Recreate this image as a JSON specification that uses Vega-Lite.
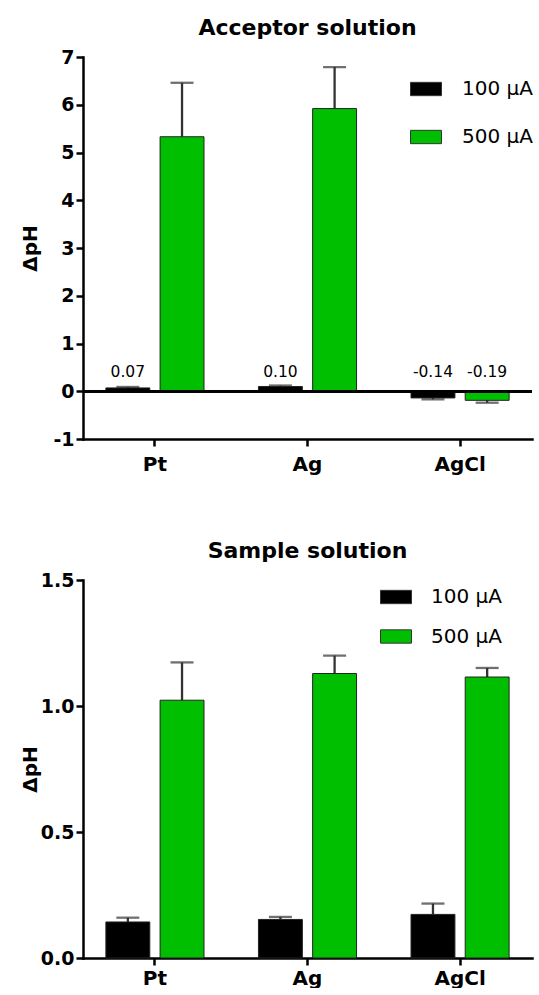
{
  "$schema": "https://vega.github.io/schema/vega-lite/v6.json",
  "background": "white",
  "padding": {"left": 20, "top": 17, "right": 0, "bottom": 0},
  "spacing": 66,
  "config": {
    "font": "DejaVu Sans",
    "view": {"stroke": null},
    "axis": {
      "grid": false,
      "domainColor": "black",
      "domainWidth": 2.5,
      "domainCap": "square",
      "tickColor": "black",
      "tickWidth": 2.5,
      "tickSize": 7,
      "labelFont": "DejaVu Sans",
      "labelFontWeight": "bold",
      "labelFontSize": 19,
      "labelColor": "black",
      "titleFont": "DejaVu Sans",
      "titleFontWeight": "bold",
      "titleFontSize": 20,
      "titleColor": "black"
    },
    "title": {"font": "DejaVu Sans", "fontSize": 22, "fontWeight": "bold", "color": "black", "offset": 8}
  },
  "datasets": {
    "acceptor": [
      {"metal": "Pt", "current": "100 µA", "value": 0.07, "sd": 0.02},
      {"metal": "Pt", "current": "500 µA", "value": 5.33, "sd": 1.13},
      {"metal": "Ag", "current": "100 µA", "value": 0.10, "sd": 0.02},
      {"metal": "Ag", "current": "500 µA", "value": 5.92, "sd": 0.87},
      {"metal": "AgCl", "current": "100 µA", "value": -0.14, "sd": 0.03},
      {"metal": "AgCl", "current": "500 µA", "value": -0.19, "sd": 0.05}
    ],
    "sample": [
      {"metal": "Pt", "current": "100 µA", "value": 0.143, "sd": 0.017},
      {"metal": "Pt", "current": "500 µA", "value": 1.023, "sd": 0.15},
      {"metal": "Ag", "current": "100 µA", "value": 0.153, "sd": 0.01},
      {"metal": "Ag", "current": "500 µA", "value": 1.129, "sd": 0.071},
      {"metal": "AgCl", "current": "100 µA", "value": 0.173, "sd": 0.043},
      {"metal": "AgCl", "current": "500 µA", "value": 1.115, "sd": 0.036}
    ]
  },
  "resolve": {
    "scale": {"color": "independent", "x": "independent", "y": "independent"},
    "legend": {"color": "independent"}
  },
  "vconcat": [
    {
      "title": "Acceptor solution",
      "width": 449,
      "height": 382,
      "data": {"name": "acceptor"},
      "transform": [
        {"calculate": "datum.value + (datum.value < 0 ? -datum.sd : datum.sd)", "as": "end"}
      ],
      "layer": [
        {
          "mark": {"type": "rule", "color": "#333333", "strokeWidth": 2.3},
          "encoding": {
            "x": {"field": "metal", "type": "nominal", "sort": ["Pt", "Ag", "AgCl"], "scale": {"paddingInner": 0.357, "paddingOuter": 0.15}, "axis": {"title": null, "labelAngle": 0, "labelPadding": 8, "labelFontSize": 20}},
            "xOffset": {"field": "current", "type": "nominal", "sort": ["100 µA", "500 µA"], "scale": {"paddingInner": 0.19, "paddingOuter": 0}},
            "y": {"field": "value", "type": "quantitative", "title": "ΔpH", "scale": {"domain": [-1, 7], "nice": false, "zero": false}, "axis": {"values": [-1, 0, 1, 2, 3, 4, 5, 6, 7], "format": "d", "labelExpr": "replace(datum.label, '\u2212', '-')", "titlePadding": 12}},
            "y2": {"field": "end"}
          }
        },
        {
          "mark": {"type": "tick", "color": "#333333", "size": 23, "thickness": 2.3},
          "encoding": {
            "x": {"field": "metal", "type": "nominal", "sort": ["Pt", "Ag", "AgCl"]},
            "xOffset": {"field": "current", "type": "nominal", "sort": ["100 µA", "500 µA"]},
            "y": {"field": "end", "type": "quantitative", "title": "ΔpH"}
          }
        },
        {
          "mark": {"type": "bar", "stroke": "#222222", "strokeWidth": 1},
          "encoding": {
            "x": {"field": "metal", "type": "nominal", "sort": ["Pt", "Ag", "AgCl"]},
            "xOffset": {"field": "current", "type": "nominal", "sort": ["100 µA", "500 µA"]},
            "y": {"field": "value", "type": "quantitative", "title": "ΔpH"},
            "color": {
              "field": "current",
              "type": "nominal",
              "scale": {"domain": ["100 µA", "500 µA"], "range": ["#000000", "#00bf00"]},
              "legend": {
                "title": null,
                "orient": "none",
                "legendX": 327,
                "legendY": 16,
                "padding": 0,
                "symbolType": "M-1,-0.43H1V0.43H-1Z",
                "symbolSize": 961,
                "symbolStrokeColor": "#333333",
                "symbolStrokeWidth": 1,
                "symbolOpacity": 1,
                "labelFont": "DejaVu Sans",
                "labelFontSize": 20,
                "labelColor": "black",
                "labelOffset": 20,
                "rowPadding": 22
              }
            }
          }
        },
        {
          "mark": {"type": "rule", "color": "black", "strokeWidth": 2.5},
          "encoding": {"y": {"datum": 0}}
        },
        {
          "transform": [
            {"filter": "abs(datum.value) < 1"},
            {"calculate": "replace(format(datum.value, '.2f'), '\u2212', '-')", "as": "label"}
          ],
          "mark": {"type": "text", "baseline": "alphabetic", "dy": -14, "fontSize": 15.5, "color": "black"},
          "encoding": {
            "x": {"field": "metal", "type": "nominal", "sort": ["Pt", "Ag", "AgCl"]},
            "xOffset": {"field": "current", "type": "nominal", "sort": ["100 µA", "500 µA"]},
            "y": {"datum": 0},
            "text": {"field": "label"}
          }
        }
      ]
    },
    {
      "title": "Sample solution",
      "width": 449,
      "height": 378,
      "data": {"name": "sample"},
      "transform": [
        {"calculate": "datum.value + datum.sd", "as": "end"}
      ],
      "layer": [
        {
          "mark": {"type": "rule", "color": "#333333", "strokeWidth": 2.3},
          "encoding": {
            "x": {"field": "metal", "type": "nominal", "sort": ["Pt", "Ag", "AgCl"], "scale": {"paddingInner": 0.357, "paddingOuter": 0.15}, "axis": {"title": null, "labelAngle": 0, "labelPadding": 3, "labelFontSize": 20}},
            "xOffset": {"field": "current", "type": "nominal", "sort": ["100 µA", "500 µA"], "scale": {"paddingInner": 0.19, "paddingOuter": 0}},
            "y": {"field": "value", "type": "quantitative", "title": "ΔpH", "scale": {"domain": [0, 1.5], "nice": false}, "axis": {"values": [0, 0.5, 1, 1.5], "format": ".1f", "titlePadding": 0}},
            "y2": {"field": "end"}
          }
        },
        {
          "mark": {"type": "tick", "color": "#333333", "size": 23, "thickness": 2.3},
          "encoding": {
            "x": {"field": "metal", "type": "nominal", "sort": ["Pt", "Ag", "AgCl"]},
            "xOffset": {"field": "current", "type": "nominal", "sort": ["100 µA", "500 µA"]},
            "y": {"field": "end", "type": "quantitative", "title": "ΔpH"}
          }
        },
        {
          "mark": {"type": "bar", "stroke": "#222222", "strokeWidth": 1},
          "encoding": {
            "x": {"field": "metal", "type": "nominal", "sort": ["Pt", "Ag", "AgCl"]},
            "xOffset": {"field": "current", "type": "nominal", "sort": ["100 µA", "500 µA"]},
            "y": {"field": "value", "type": "quantitative", "title": "ΔpH"},
            "color": {
              "field": "current",
              "type": "nominal",
              "scale": {"domain": ["100 µA", "500 µA"], "range": ["#000000", "#00bf00"]},
              "legend": {
                "title": null,
                "orient": "none",
                "legendX": 297,
                "legendY": 1,
                "padding": 0,
                "symbolType": "M-1,-0.43H1V0.43H-1Z",
                "symbolSize": 961,
                "symbolStrokeColor": "#333333",
                "symbolStrokeWidth": 1,
                "symbolOpacity": 1,
                "labelFont": "DejaVu Sans",
                "labelFontSize": 20,
                "labelColor": "black",
                "labelOffset": 19,
                "rowPadding": 13.5
              }
            }
          }
        }
      ]
    }
  ]
}
